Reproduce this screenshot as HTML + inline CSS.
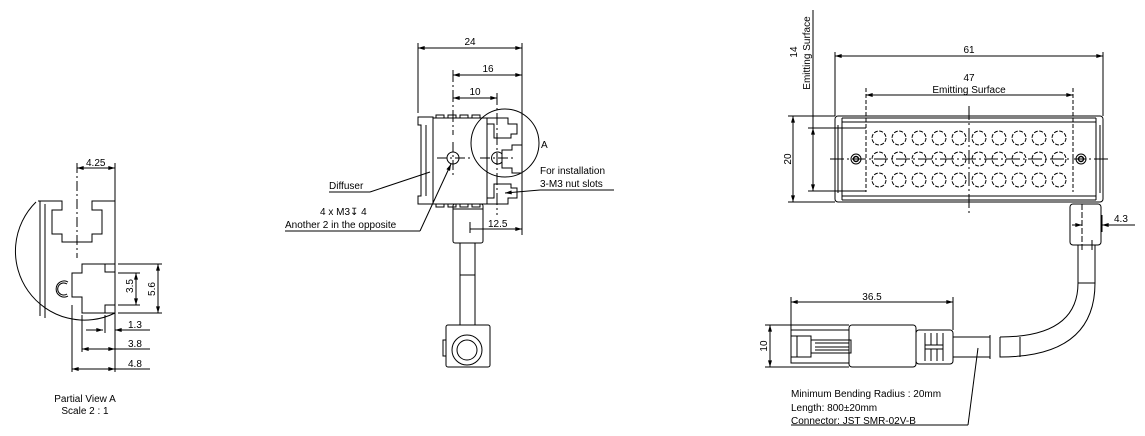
<!DOCTYPE html>
<html><head><meta charset="utf-8"><style>
html,body{margin:0;padding:0;background:#fff;}
svg{display:block;}
text{font-family:"Liberation Sans",sans-serif;font-size:10px;fill:#000;}
</style></head><body>
<svg width="1145" height="436" viewBox="0 0 1145 436" xmlns="http://www.w3.org/2000/svg">
<defs>
<marker id="a" viewBox="0 0 10 6" refX="10" refY="3" markerWidth="10" markerHeight="4" orient="auto-start-reverse" markerUnits="userSpaceOnUse"><path d="M0,0L10,3L0,6z" fill="#000"/></marker>
</defs>
<g fill="none" stroke="#000" stroke-width="1">
<!-- LEFT partial view -->
<line x1="77" y1="168" x2="115" y2="168" marker-start="url(#a)" marker-end="url(#a)"/>
<line x1="77" y1="163" x2="77" y2="258" stroke-dasharray="10,3,2,3"/>
<line x1="115" y1="163" x2="115" y2="372"/>
<path d="M38,201 L62,201 L62,210 L52,210 L52,234 L62,234 L62,242 L92,242 L92,234 L102,234 L102,210 L92,210 L92,201 L115,201"/>
<line x1="40" y1="201" x2="40" y2="316"/><line x1="45" y1="204" x2="45" y2="318"/>
<path d="M36,202 A69,69 0 0 0 115,313"/>
<path d="M115,264 L82,264 L82,273 L72,273 L72,297 L82,297 L82,313 L115,313"/>
<path d="M105,264 L105,272 L115,272 M105,313 L105,305 L115,305"/>
<path d="M68,282 A8,8 0 1 0 68,296 M67,284 A6,6 0 1 0 67,294"/>
<line x1="118" y1="273" x2="140" y2="273"/><line x1="118" y1="305" x2="140" y2="305"/>
<line x1="136" y1="273" x2="136" y2="305" marker-start="url(#a)" marker-end="url(#a)"/>
<line x1="118" y1="264" x2="162" y2="264"/><line x1="118" y1="313" x2="162" y2="313"/>
<line x1="158" y1="264" x2="158" y2="313" marker-start="url(#a)" marker-end="url(#a)"/>
<line x1="72" y1="305" x2="72" y2="372"/><line x1="82" y1="315" x2="82" y2="352"/><line x1="105" y1="315" x2="105" y2="333"/>
<line x1="86" y1="330" x2="103" y2="330" marker-end="url(#a)"/><line x1="150" y1="330" x2="115" y2="330" marker-end="url(#a)"/>
<line x1="82" y1="349" x2="115" y2="349" marker-start="url(#a)" marker-end="url(#a)"/><line x1="115" y1="349" x2="150" y2="349"/>
<line x1="72" y1="369" x2="115" y2="369" marker-start="url(#a)" marker-end="url(#a)"/><line x1="115" y1="369" x2="150" y2="369"/>

<!-- MIDDLE view -->
<line x1="418" y1="48" x2="522" y2="48" marker-start="url(#a)" marker-end="url(#a)"/>
<line x1="453" y1="75" x2="522" y2="75" marker-start="url(#a)" marker-end="url(#a)"/>
<line x1="453" y1="98" x2="497" y2="98" marker-start="url(#a)" marker-end="url(#a)"/>
<line x1="418" y1="43" x2="418" y2="113"/><line x1="522" y1="43" x2="522" y2="235"/>
<line x1="453" y1="70" x2="453" y2="135" stroke-dasharray="12,3,2,3"/>
<line x1="497" y1="93" x2="497" y2="215" stroke-dasharray="12,3,2,3"/>
<path d="M418,117 L433,117 L433,204 L418,204 L418,196 L421,196 L421,125 L418,125 Z"/>
<line x1="426" y1="125" x2="426" y2="196"/>
<rect x="433" y="118" width="54" height="86"/>
<path d="M436,118 v-3 h8 v3 M448,118 v-3 h8 v3 M460,118 v-3 h8 v3 M472,118 v-3 h8 v3 M436,204 v3 h8 v-3 M448,204 v3 h8 v-3 M460,204 v3 h8 v-3 M472,204 v3 h8 v-3"/>
<path d="M487,118 L508,118 L508,124 L517,124 L517,134 L511,134 L511,138 L494,138 L494,124 L487,124"/>
<path d="M522,145 L512,145 L512,150 L502,150 L502,168 L512,168 L512,173 L522,173"/>
<path d="M487,204 L508,204 L508,198 L517,198 L517,188 L511,188 L511,184 L494,184 L494,198 L487,198"/>
<circle cx="453" cy="158" r="6"/>
<line x1="437" y1="158" x2="470" y2="158" stroke-dasharray="10,3,2,3"/>
<line x1="453" y1="142" x2="453" y2="175" stroke-dasharray="10,3,2,3"/>
<path d="M502,154 A6,6 0 1 0 502,162"/>
<line x1="480" y1="158" x2="515" y2="158" stroke-dasharray="10,3,2,3"/>
<circle cx="505" cy="143" r="34"/>
<line x1="370" y1="192" x2="329" y2="192"/><line x1="370" y1="192" x2="430" y2="172"/>
<line x1="285" y1="231" x2="420" y2="231"/><line x1="420" y1="231" x2="451" y2="164" marker-end="url(#a)"/>
<line x1="614" y1="190" x2="540" y2="190"/><line x1="540" y1="190" x2="505" y2="193" marker-end="url(#a)"/>
<line x1="470" y1="229" x2="522" y2="229" marker-end="url(#a)"/>
<line x1="470" y1="222" x2="470" y2="233"/>
<rect x="453" y="204" width="30" height="39" rx="2"/>
<line x1="453" y1="209" x2="483" y2="209"/>
<rect x="460" y="243" width="15" height="82"/>
<line x1="460" y1="275" x2="475" y2="275"/>
<rect x="446" y="325" width="44" height="42" rx="2"/>
<rect x="443" y="340" width="3" height="16"/>
<circle cx="467" cy="350" r="15"/><circle cx="467" cy="350" r="10"/>

<!-- RIGHT view -->
<line x1="835" y1="56" x2="1103" y2="56" marker-start="url(#a)" marker-end="url(#a)"/>
<line x1="866" y1="95" x2="1073" y2="95" marker-start="url(#a)" marker-end="url(#a)"/>
<line x1="835" y1="52" x2="835" y2="116"/><line x1="1103" y1="52" x2="1103" y2="116"/>
<line x1="866" y1="88" x2="866" y2="192" stroke-dasharray="4,2"/><line x1="1073" y1="88" x2="1073" y2="192" stroke-dasharray="4,2"/>
<rect x="835" y="116" width="268" height="86" rx="3"/>
<line x1="842" y1="118" x2="1096" y2="118"/><line x1="842" y1="122" x2="1096" y2="122"/>
<line x1="842" y1="196" x2="1096" y2="196"/><line x1="842" y1="200" x2="1096" y2="200"/>
<line x1="842" y1="118" x2="842" y2="200"/><line x1="1096" y1="118" x2="1096" y2="200"/>
<line x1="838" y1="125" x2="838" y2="193"/><line x1="1100" y1="125" x2="1100" y2="193"/>
<line x1="788" y1="116" x2="835" y2="116"/><line x1="788" y1="202" x2="835" y2="202"/>
<line x1="793" y1="116" x2="793" y2="202" marker-start="url(#a)" marker-end="url(#a)"/>
<line x1="808" y1="128" x2="866" y2="128"/><line x1="808" y1="191" x2="866" y2="191"/>
<line x1="813" y1="10" x2="813" y2="128"/>
<line x1="813" y1="128" x2="813" y2="191" marker-start="url(#a)" marker-end="url(#a)"/>
<line x1="830" y1="159" x2="1110" y2="159" stroke-dasharray="14,3,2,3"/>
<line x1="969" y1="106" x2="969" y2="213" stroke-dasharray="14,3,2,3"/>
<g stroke-dasharray="4,1.5">
<circle cx="879" cy="138" r="7"/><circle cx="899" cy="138" r="7"/><circle cx="919" cy="138" r="7"/><circle cx="939" cy="138" r="7"/><circle cx="959" cy="138" r="7"/><circle cx="979" cy="138" r="7"/><circle cx="999" cy="138" r="7"/><circle cx="1019" cy="138" r="7"/><circle cx="1039" cy="138" r="7"/><circle cx="1059" cy="138" r="7"/>
<circle cx="879" cy="159" r="7"/><circle cx="899" cy="159" r="7"/><circle cx="919" cy="159" r="7"/><circle cx="939" cy="159" r="7"/><circle cx="959" cy="159" r="7"/><circle cx="979" cy="159" r="7"/><circle cx="999" cy="159" r="7"/><circle cx="1019" cy="159" r="7"/><circle cx="1039" cy="159" r="7"/><circle cx="1059" cy="159" r="7"/>
<circle cx="879" cy="180" r="7"/><circle cx="899" cy="180" r="7"/><circle cx="919" cy="180" r="7"/><circle cx="939" cy="180" r="7"/><circle cx="959" cy="180" r="7"/><circle cx="979" cy="180" r="7"/><circle cx="999" cy="180" r="7"/><circle cx="1019" cy="180" r="7"/><circle cx="1039" cy="180" r="7"/><circle cx="1059" cy="180" r="7"/>
</g>
<circle cx="856" cy="159" r="5"/><circle cx="856" cy="159" r="2.5" stroke-width="1.5"/>
<circle cx="1081" cy="159" r="5"/><circle cx="1081" cy="159" r="2.5" stroke-width="1.5"/>
<rect x="1070" y="204" width="31" height="41" rx="3"/>
<line x1="1082" y1="204" x2="1082" y2="250" stroke-dasharray="6,2"/>
<line x1="1092" y1="240" x2="1092" y2="250"/>
<line x1="1072" y1="225" x2="1082" y2="225" marker-end="url(#a)"/>
<line x1="1135" y1="225" x2="1102" y2="225" marker-end="url(#a)"/>
<line x1="1102" y1="215" x2="1102" y2="232"/>
<path d="M1078,245 L1078,283 Q1078,337 1000,337 M1095,245 L1095,283 Q1095,357 1000,357 L1000,337"/>
<line x1="1078" y1="283" x2="1095" y2="283"/><line x1="1020" y1="337" x2="1020" y2="357"/>
<path d="M953,337 L990,337 M953,357 L990,357 M990,335 L990,359"/>
<rect x="916" y="330" width="37" height="34" rx="3"/>
<path d="M925,333 v28 M931,333 v12 M931,349 v12 M937,333 v12 M937,349 v12 M943,333 v28 M925,345 h18 M925,349 h18"/>
<rect x="849" y="325" width="67" height="42" rx="3"/>
<rect x="791" y="330" width="58" height="33"/>
<path d="M791,336 h20 v21 h-20 M797,336 v21 M811,340 h40 v13 h-40 M815,343 h34 M815,347 h34 M815,350 h34"/>
<line x1="791" y1="302" x2="953" y2="302" marker-start="url(#a)" marker-end="url(#a)"/>
<line x1="791" y1="297" x2="791" y2="330"/><line x1="953" y1="297" x2="953" y2="330"/>
<line x1="765" y1="325" x2="849" y2="325"/><line x1="765" y1="367" x2="849" y2="367"/>
<line x1="770" y1="325" x2="770" y2="367" marker-start="url(#a)" marker-end="url(#a)"/>
<line x1="791" y1="425" x2="968" y2="425"/><line x1="968" y1="425" x2="978" y2="348"/>
</g>

<!-- texts -->
<text x="86" y="166">4.25</text>
<text x="136" y="289" text-anchor="middle" transform="rotate(-90 133 289)">3.5</text>
<text x="155" y="289" text-anchor="middle" transform="rotate(-90 155 289)">5.6</text>
<text x="128" y="328">1.3</text>
<text x="128" y="347">3.8</text>
<text x="128" y="367">4.8</text>
<text x="85" y="402" text-anchor="middle">Partial View A</text>
<text x="85" y="414" text-anchor="middle">Scale 2 : 1</text>

<text x="470" y="45" text-anchor="middle">24</text>
<text x="488" y="72" text-anchor="middle">16</text>
<text x="475" y="95" text-anchor="middle">10</text>
<text x="541" y="148">A</text>
<text x="329" y="189">Diffuser</text>
<text x="320" y="215">4 x M3↧ 4</text>
<text x="285" y="228">Another 2 in the opposite</text>
<text x="540" y="174">For installation</text>
<text x="540" y="187">3-M3 nut slots</text>
<text x="488" y="227">12.5</text>

<text x="969" y="53" text-anchor="middle">61</text>
<text x="969" y="81" text-anchor="middle">47</text>
<text x="969" y="93" text-anchor="middle">Emitting Surface</text>
<text x="791" y="159" text-anchor="middle" transform="rotate(-90 791 159)">20</text>
<text x="797" y="52" text-anchor="middle" transform="rotate(-90 797 52)">14</text>
<text x="810" y="53" text-anchor="middle" transform="rotate(-90 810 53)">Emitting Surface</text>
<text x="1114" y="222">4.3</text>
<text x="872" y="300" text-anchor="middle">36.5</text>
<text x="767" y="346" text-anchor="middle" transform="rotate(-90 767 346)">10</text>
<text x="791" y="397">Minimum Bending Radius : 20mm</text>
<text x="791" y="411">Length: 800±20mm</text>
<text x="791" y="424">Connector: JST SMR-02V-B</text>
</svg>
</body></html>
